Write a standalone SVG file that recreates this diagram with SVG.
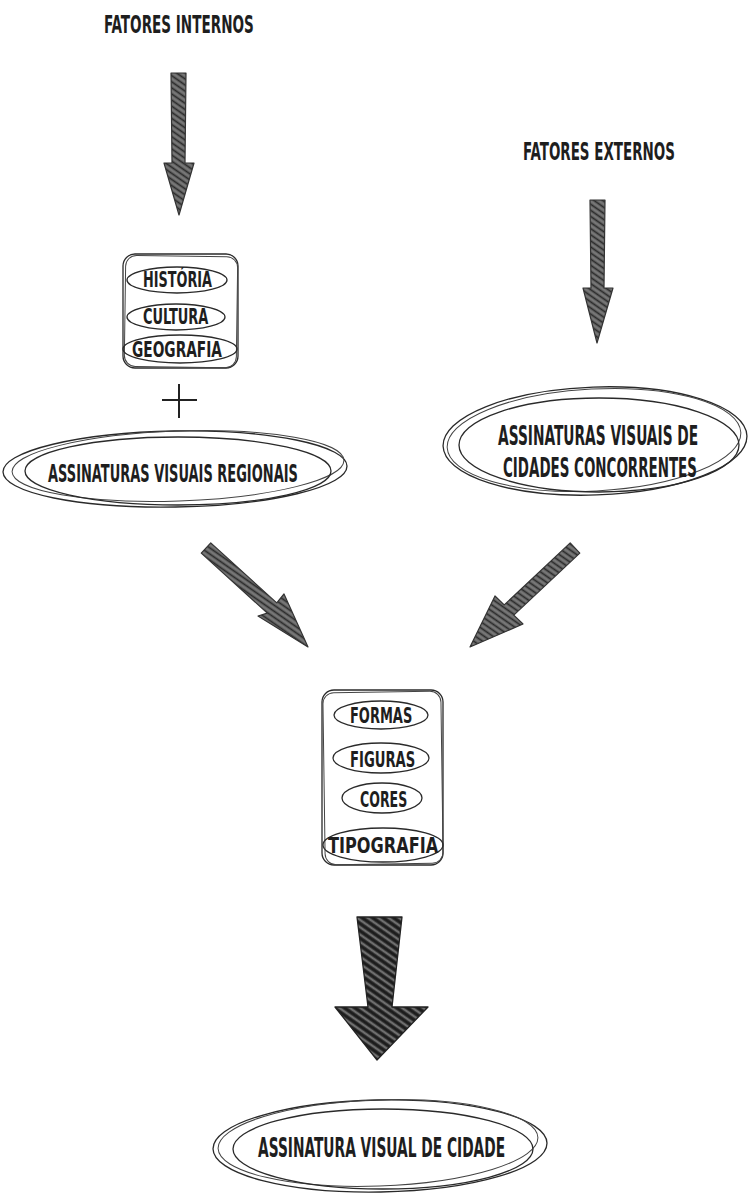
<svg xmlns="http://www.w3.org/2000/svg" width="750" height="1197" viewBox="0 0 750 1197">
<style>
.t{font-family:"DejaVu Sans Condensed","DejaVu Sans",sans-serif;font-weight:bold;fill:#1e1e1e;}
.sk{fill:none;stroke:#2a2a2a;stroke-width:1.3;}
.sk2{fill:none;stroke:#444;stroke-width:1;}
.arr{fill:url(#hatch);stroke:#333;stroke-width:1.2;stroke-linejoin:round;}
.arrd{fill:url(#hatchd);stroke:#222;stroke-width:1.3;stroke-linejoin:round;}
</style>
<defs>
<pattern id="hatch" patternUnits="userSpaceOnUse" width="5" height="5" patternTransform="rotate(35)">
<rect width="5" height="5" fill="#5a5a5a"/>
<line x1="0" y1="1" x2="5" y2="1" stroke="#9a9a9a" stroke-width="0.9"/>
<line x1="0" y1="3.5" x2="5" y2="3.5" stroke="#2a2a2a" stroke-width="1"/>
</pattern>
<pattern id="hatchd" patternUnits="userSpaceOnUse" width="6" height="6" patternTransform="rotate(35)">
<rect width="6" height="6" fill="#333"/>
<line x1="0" y1="1" x2="6" y2="1" stroke="#aaa" stroke-width="1"/>
<line x1="0" y1="4" x2="6" y2="4" stroke="#111" stroke-width="1.4"/>
</pattern>
</defs>

<g id="fatores-internos">
<text class="t" transform="translate(104,33) scale(0.7,1)" font-size="25" textLength="214" lengthAdjust="spacingAndGlyphs">FATORES INTERNOS</text>
</g>
<g id="fatores-externos">
<text class="t" transform="translate(523,160) scale(0.7,1)" font-size="24" textLength="217" lengthAdjust="spacingAndGlyphs">FATORES EXTERNOS</text>
</g>

<g id="fatores-box">
<rect class="sk" x="123" y="254" width="115" height="114" rx="12"/>
<rect class="sk2" x="125" y="256" width="112" height="111" rx="11" transform="rotate(0.8 180 311)"/>
<ellipse class="sk" cx="177" cy="280" rx="50" ry="13"/>
<ellipse class="sk" cx="176" cy="317" rx="49" ry="13"/>
<ellipse class="sk" cx="180" cy="349" rx="57" ry="14"/>
<text class="t" transform="translate(143,287) scale(0.75,1)" font-size="21" textLength="92" lengthAdjust="spacingAndGlyphs">HISTÓRIA</text>
<text class="t" transform="translate(143,324) scale(0.75,1)" font-size="21" textLength="87" lengthAdjust="spacingAndGlyphs">CULTURA</text>
<text class="t" transform="translate(132,357) scale(0.75,1)" font-size="21" textLength="120" lengthAdjust="spacingAndGlyphs">GEOGRAFIA</text>
</g>

<g id="plus">
<line x1="162" y1="400" x2="197" y2="400" stroke="#222" stroke-width="2"/>
<line x1="179" y1="384" x2="179" y2="418" stroke="#222" stroke-width="2"/>
</g>

<g id="regionais">
<ellipse class="sk" cx="175" cy="469" rx="172" ry="38" transform="rotate(-1 175 469)"/>
<ellipse class="sk2" cx="178" cy="466" rx="166" ry="35" transform="rotate(-2 178 466)"/>
<ellipse class="sk" cx="178" cy="471" rx="153" ry="34"/>
<text class="t" transform="translate(48,482) scale(0.7,1)" font-size="25" textLength="357" lengthAdjust="spacingAndGlyphs">ASSINATURAS VISUAIS REGIONAIS</text>
</g>

<g id="concorrentes">
<ellipse class="sk" cx="595" cy="441" rx="152" ry="54" transform="rotate(-2 595 441)"/>
<ellipse class="sk2" cx="594" cy="440" rx="147" ry="51" transform="rotate(-3 594 440)"/>
<ellipse class="sk" cx="599" cy="445" rx="140" ry="47"/>
<text class="t" transform="translate(498,445) scale(0.7,1)" font-size="27" textLength="286" lengthAdjust="spacingAndGlyphs">ASSINATURAS VISUAIS DE</text>
<text class="t" transform="translate(503,477) scale(0.7,1)" font-size="27" textLength="277" lengthAdjust="spacingAndGlyphs">CIDADES CONCORRENTES</text>
</g>

<g id="elementos-box">
<rect class="sk" x="322" y="690" width="121" height="175" rx="12"/>
<rect class="sk2" x="324" y="692" width="118" height="172" rx="11" transform="rotate(-0.8 382 777)"/>
<ellipse class="sk" cx="381" cy="715" rx="47" ry="14"/>
<ellipse class="sk" cx="381" cy="758" rx="48" ry="15"/>
<ellipse class="sk" cx="382" cy="798" rx="40" ry="15"/>
<ellipse class="sk" cx="383" cy="845" rx="60" ry="17"/>
<text class="t" transform="translate(350,723) scale(0.75,1)" font-size="21" textLength="83" lengthAdjust="spacingAndGlyphs">FORMAS</text>
<text class="t" transform="translate(350,767) scale(0.75,1)" font-size="21" textLength="87" lengthAdjust="spacingAndGlyphs">FIGURAS</text>
<text class="t" transform="translate(360,807) scale(0.75,1)" font-size="21" textLength="63" lengthAdjust="spacingAndGlyphs">CORES</text>
<text class="t" transform="translate(328,853) scale(0.75,1)" font-size="21" textLength="147" lengthAdjust="spacingAndGlyphs">TIPOGRAFIA</text>
</g>

<g id="assinatura-cidade">
<ellipse class="sk" cx="380" cy="1146" rx="167" ry="46" transform="rotate(-1 380 1146)"/>
<ellipse class="sk2" cx="378" cy="1143" rx="160" ry="43" transform="rotate(-2 378 1143)"/>
<ellipse class="sk" cx="383" cy="1149" rx="150" ry="40"/>
<text class="t" transform="translate(258,1157) scale(0.7,1)" font-size="26" textLength="353" lengthAdjust="spacingAndGlyphs">ASSINATURA VISUAL DE CIDADE</text>
</g>

<g id="connectors">
<path class="arr" d="M171,73 L186,73 L185,163 L194,163 L179,215 L164,163 L172,163 Z"/>
<path class="arr" d="M590,200 L605,200 L604,288 L613,288 L597,343 L583,288 L591,288 Z"/>
<path class="arr" d="M210.75,542.9 L276.75,602.9 L284,594 L308,647 L258,616 L267.25,613.1 L201.25,553.1 Z"/>
<path class="arr" d="M570.2,542.9 L504.2,604.9 L495,596 L470,647 L523,624 L513.8,615.1 L579.8,553.1 Z"/>
<path class="arrd" d="M357,917 L402,917 L392,1007 L428,1007 L377,1060 L335,1007 L368,1007 Z"/>
</g>
</svg>
